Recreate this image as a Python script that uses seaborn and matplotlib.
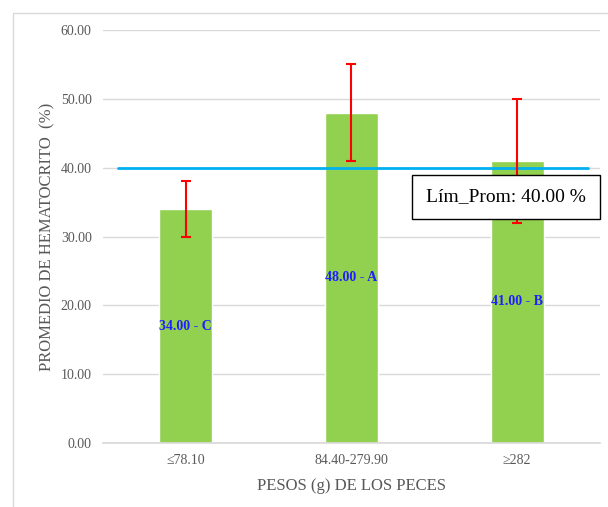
import pandas as pd
import matplotlib.pyplot as plt
import seaborn as sns
from matplotlib.patches import Rectangle

# Data
categorias = ['≤78.10', '84.40-279.90', '≥282']
promedios = [34.0, 48.0, 41.0]
errores = [4.0, 7.0, 9.0]
letras = ['C', 'A', 'B']
limite_prom = 40.0


def main():
    sns.set_theme(style="white")
    plt.rcParams['font.family'] = ['Liberation Serif', 'DejaVu Serif']

    df = pd.DataFrame({'Peso': categorias, 'Promedio': promedios})

    fig = plt.figure(figsize=(6.08, 5.07), dpi=100)
    ax = fig.add_axes([0.169, 0.126, 0.818, 0.815])

    sns.barplot(x='Peso', y='Promedio', data=df, order=categorias,
                color='#92D050', saturation=1, width=0.32, ax=ax, zorder=2)

    # Error bars
    ax.errorbar(range(len(categorias)), promedios, yerr=errores, fmt='none',
                ecolor='#FF0000', elinewidth=1.5, capsize=3.5, capthick=1.5, zorder=4)

    # Value labels in the middle of each bar
    for i, (v, l) in enumerate(zip(promedios, letras)):
        ax.text(i, v / 2, f'{v:.2f} - {l}', ha='center', va='center',
                color='#1F1FFF', fontsize=10, fontweight='bold', zorder=5)

    # Average limit line
    ax.plot([-0.41, 2.43], [limite_prom, limite_prom], color='#00B0F0', lw=2, zorder=3)

    ax.set_xlim(-0.5, 2.5)
    ax.set_ylim(0, 60)
    ax.set_yticks(range(0, 61, 10))
    ax.set_yticklabels([f'{t:.2f}' for t in range(0, 61, 10)])
    ax.yaxis.grid(True, color='#D9D9D9', lw=1)
    ax.set_axisbelow(True)
    for s in ['top', 'right', 'left']:
        ax.spines[s].set_visible(False)
    ax.spines['bottom'].set_color('#D9D9D9')
    ax.tick_params(axis='both', colors='#595959', labelsize=10, length=0, pad=8)

    ax.set_xlabel('PESOS (g) DE LOS PECES', fontsize=12, color='#595959', labelpad=8)
    ax.set_ylabel('PROMEDIO DE HEMATOCRITO  (%)', fontsize=12, color='#595959', labelpad=4)

    # Box with the limit
    fig.text(506 / 608, 1 - 197 / 507, f'Lím_Prom: {limite_prom:.2f} %',
             ha='center', va='center', fontsize=14, color='black', zorder=6,
             bbox=dict(boxstyle='square,pad=0.7', fc='white', ec='black', lw=1))

    # Chart area border
    fig.patches.append(Rectangle((12.5 / 608, -0.1), 1.2, 1.1 - 12.5 / 507,
                                 transform=fig.transFigure, fill=False,
                                 ec='#D9D9D9', lw=1))

    plt.savefig('out.png', dpi=100)
    plt.close()


if __name__ == "__main__":
    main()
